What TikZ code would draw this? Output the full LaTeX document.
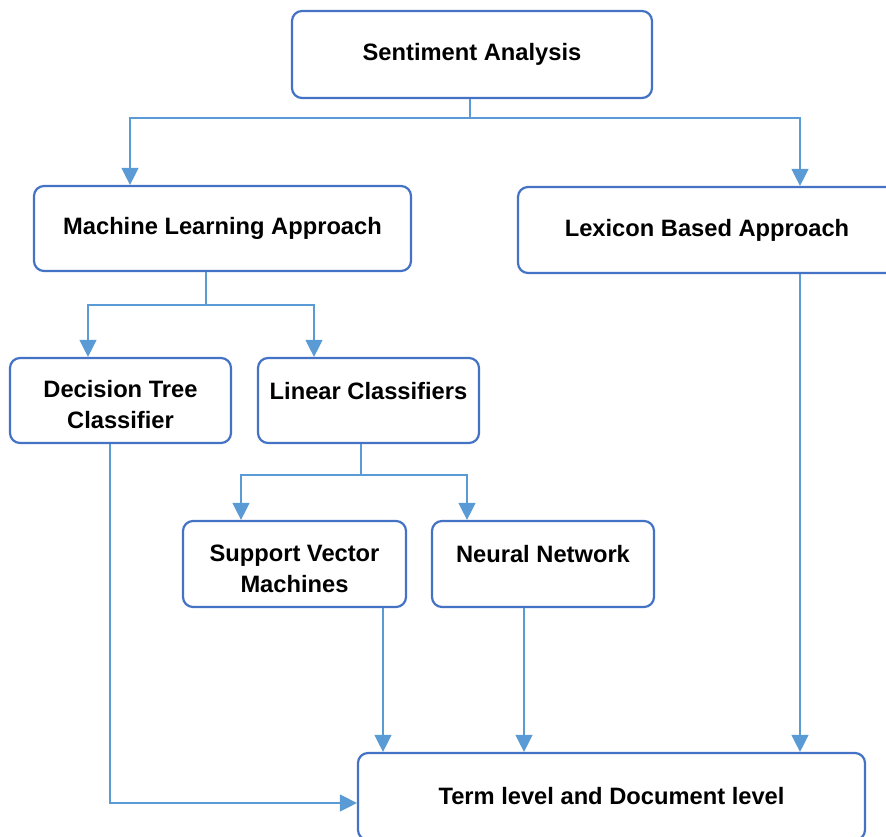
\documentclass[tikz,border=0pt]{standalone}
\usepackage{fontspec}
\setmainfont{Liberation Sans}
\usetikzlibrary{arrows.meta}
\definecolor{boxblue}{HTML}{4472C4}
\definecolor{lineblue}{HTML}{5B9BD5}
\begin{document}
\begin{tikzpicture}[x=1pt,y=-1pt,>={Triangle[length=17pt,width=17pt]},
	box/.style={draw=boxblue,line width=2.2pt,rounded corners=10pt,fill=white,align=center,inner sep=0pt,
		font=\fontsize{23.7}{31}\selectfont\bfseries},
	link/.style={draw=lineblue,line width=1.3pt},
	arrowlink/.style={link,->,lineblue}]
			\useasboundingbox (0,0) rectangle (886,836);
			\node[box,minimum width=360pt,minimum height=87pt] (sa) at (472,54.5) {Sentiment Analysis};
			\node[box,minimum width=377pt,minimum height=85pt] (ml) at (222.5,228.5) {Machine Learning Approach};
			\node[box,minimum width=378pt,minimum height=86pt] (lex) at (707,230) {Lexicon Based Approach};
			\node[box,minimum width=221pt,minimum height=85pt,text height=57pt] (dt) at (120.5,400.5) {Decision Tree\\Classifier};
			\node[box,minimum width=221pt,minimum height=85pt,text depth=19.5pt] (lc) at (368.5,400.5) {Linear Classifiers};
			\node[box,minimum width=223pt,minimum height=86pt,text height=57pt] (svm) at (294.5,564) {Support Vector\\Machines};
			\node[box,minimum width=222pt,minimum height=86pt,text depth=19.5pt] (nn) at (543,564) {Neural Network};
			\node[box,minimum width=507pt,minimum height=87pt] (term) at (611.5,796.5) {Term level and Document level};
			% first split
			\coordinate (sajoin) at (470,118);
			\draw[link] (sa.south -| sajoin) -- (sajoin);
			\draw[arrowlink] (sajoin) -| ([xshift=-92.5]ml.north);
			\draw[arrowlink] (sajoin) -| ([xshift=93]lex.north);
			% machine learning split
			\coordinate (mljoin) at (206,305);
			\draw[link] (ml.south -| mljoin) -- (mljoin);
			\draw[arrowlink] (mljoin) -| ([xshift=-32.5]dt.north);
			\draw[arrowlink] (mljoin) -| ([xshift=-54.5]lc.north);
			% linear classifiers split
			\coordinate (lcjoin) at (361,475);
			\draw[link] (lc.south -| lcjoin) -- (lcjoin);
			\draw[arrowlink] (lcjoin) -| ([xshift=-53.5]svm.north);
			\draw[arrowlink] (lcjoin) -| ([xshift=-76]nn.north);
			% into the last box
			\draw[arrowlink] ([xshift=-10.5]dt.south) |- ([yshift=-6.5]term.west);
			\draw[arrowlink] ([xshift=88.5]svm.south) -- ([xshift=88.5]svm.south |- term.north);
			\draw[arrowlink] ([xshift=-19]nn.south) -- ([xshift=-19]nn.south |- term.north);
			\draw[arrowlink] ([xshift=93]lex.south) -- ([xshift=93]lex.south |- term.north);
\end{tikzpicture}
\end{document}
